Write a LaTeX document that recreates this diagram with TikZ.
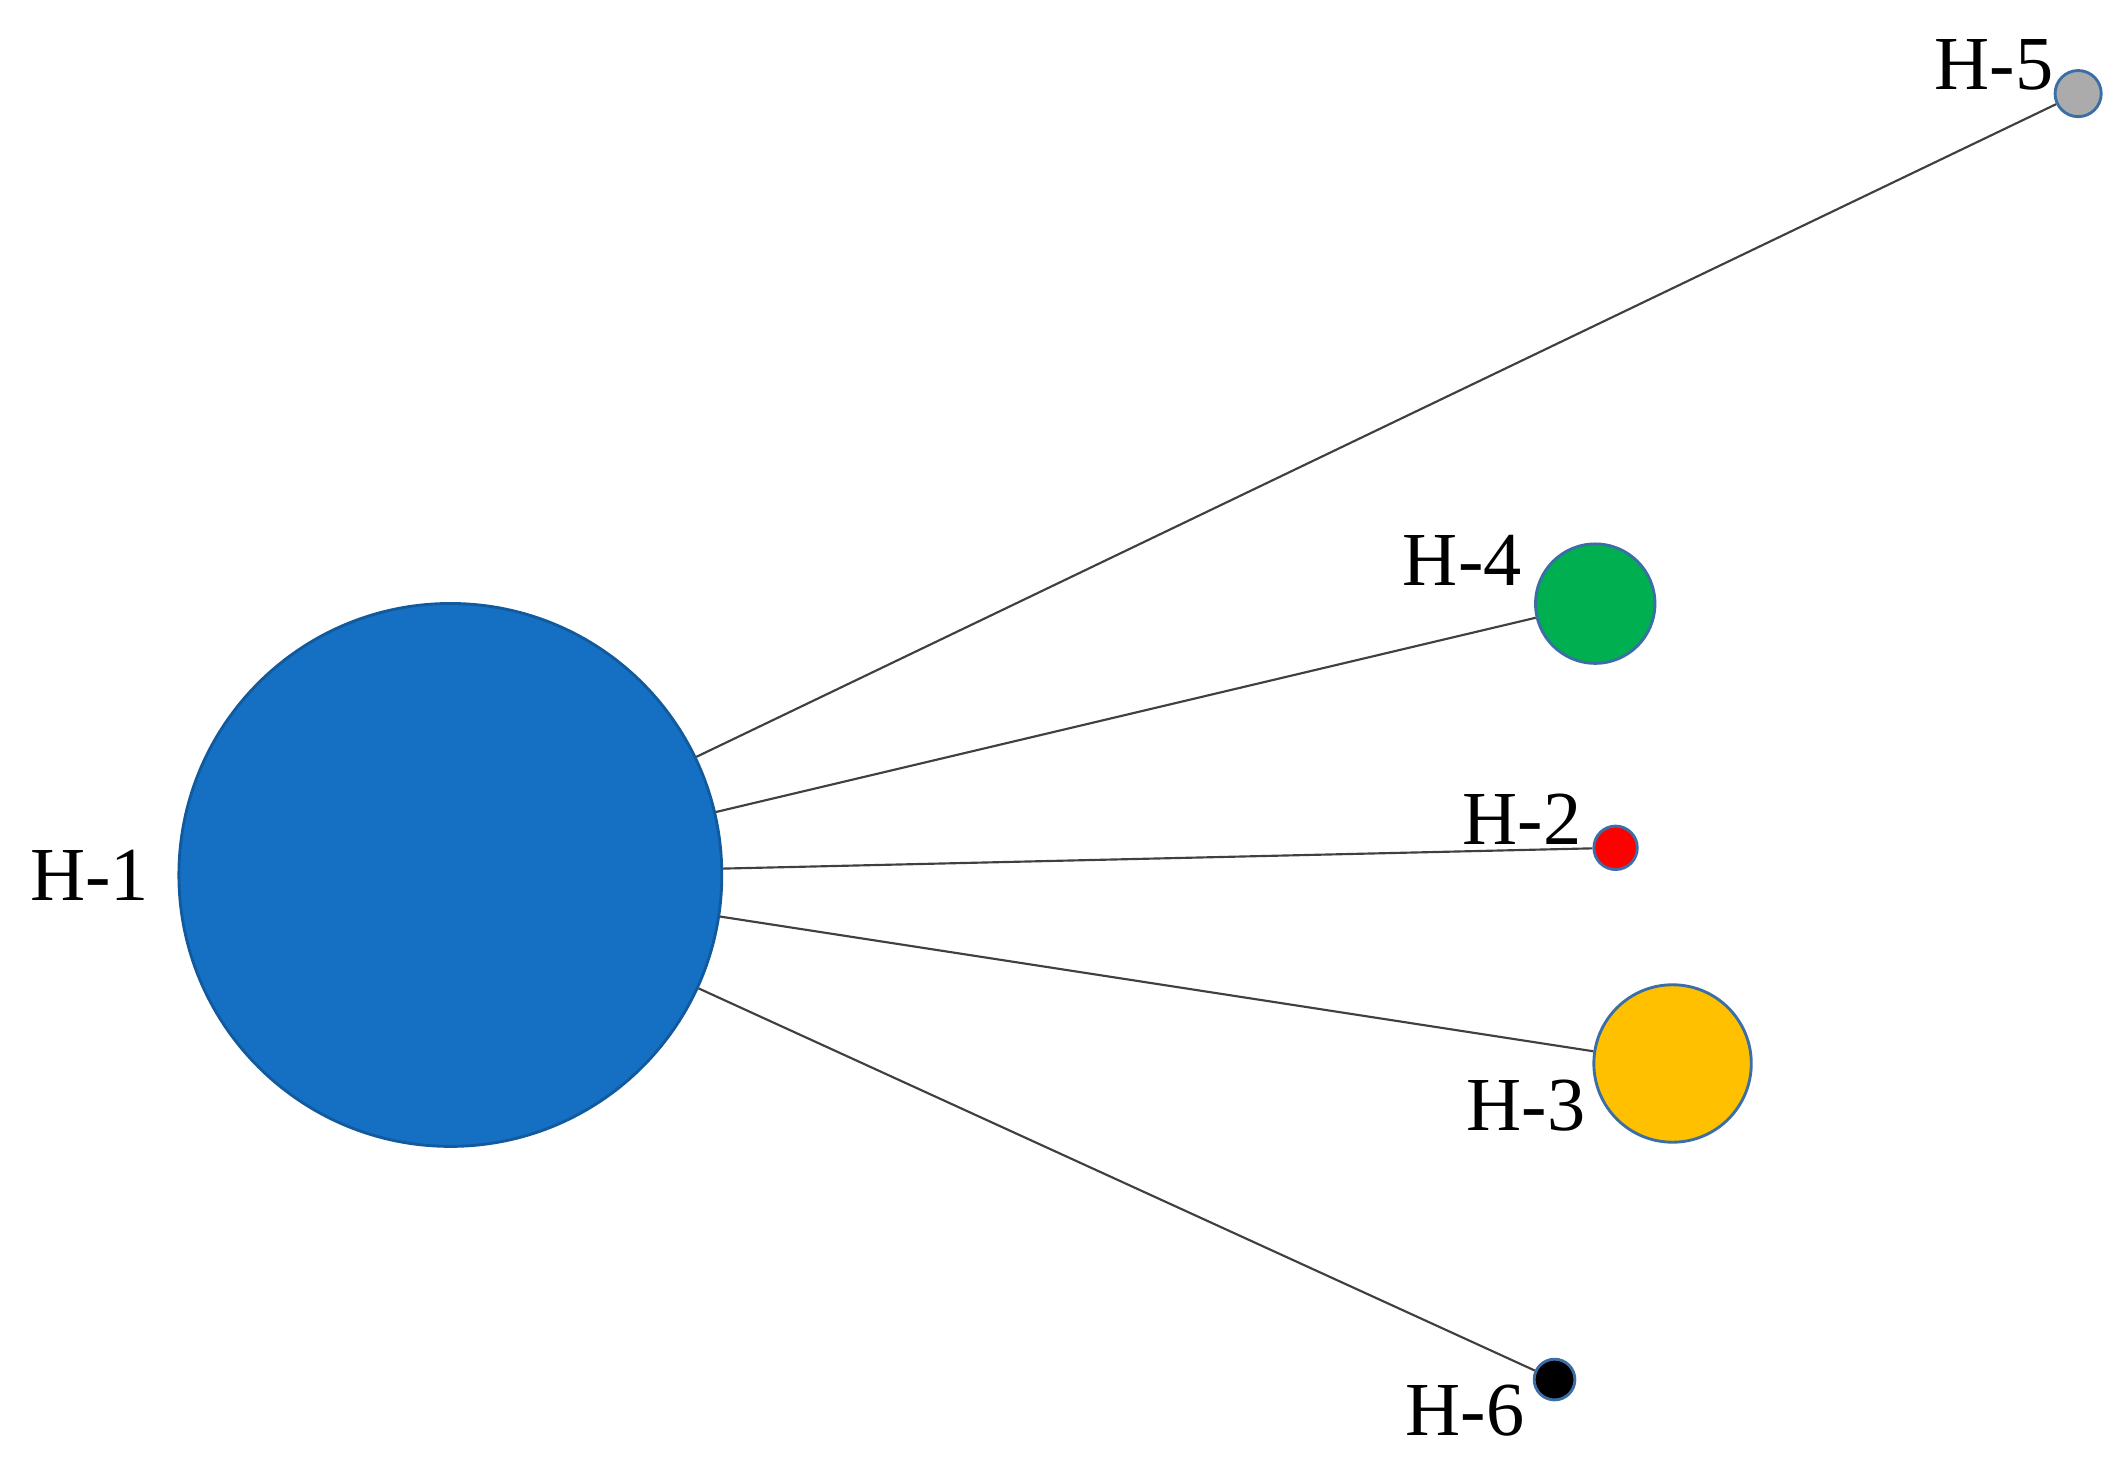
\documentclass[tikz,border=0pt]{standalone}
\usepackage{fontspec}
\setmainfont{Liberation Serif}
\definecolor{hblue}{HTML}{1570C4}
\definecolor{hedge}{HTML}{3A6EA5}
\definecolor{hgreen}{HTML}{00B050}
\definecolor{hyellow}{HTML}{FFC000}
\definecolor{hgray}{HTML}{ABABAB}
\begin{document}
\begin{tikzpicture}[x=0.01cm,y=-0.01cm,
  hnode/.style={circle,draw=hedge,line width=0.6pt,inner sep=0pt},
  hlab/.style={font=\fontsize{16pt}{18pt}\selectfont,inner sep=0pt},
  hline/.style={draw=black!75,line width=0.45pt}]
\useasboundingbox (0,0) rectangle (1568,1082);
\node[hnode,fill=hblue,draw=hblue!80!black,minimum size=4cm] (h1) at (332,645) {};
\node[hnode,fill=hgray,minimum size=0.34cm] (h5) at (1532,69) {};
\node[hnode,fill=hgreen,minimum size=0.88cm] (h4) at (1176,445) {};
\node[hnode,fill=red,minimum size=0.32cm] (h2) at (1191,625) {};
\node[hnode,fill=hyellow,minimum size=1.16cm] (h3) at (1233,784) {};
\node[hnode,fill=black,minimum size=0.3cm] (h6) at (1146,1017) {};
\draw[hline] (h1) -- (h5);
\draw[hline] (h1) -- (h4);
\draw[hline] (h1) -- (h2);
\draw[hline] (h1) -- (h3);
\draw[hline] (h1) -- (h6);
\node[hlab] (l1) at (66,645) {H-1};
\node[hlab] (l5) at (1470,48) {H-5};
\node[hlab] (l4) at (1078,413) {H-4};
\node[hlab] (l2) at (1122,604) {H-2};
\node[hlab] (l3) at (1125,815) {H-3};
\node[hlab] (l6) at (1080,1040) {H-6};
\end{tikzpicture}
\end{document}
